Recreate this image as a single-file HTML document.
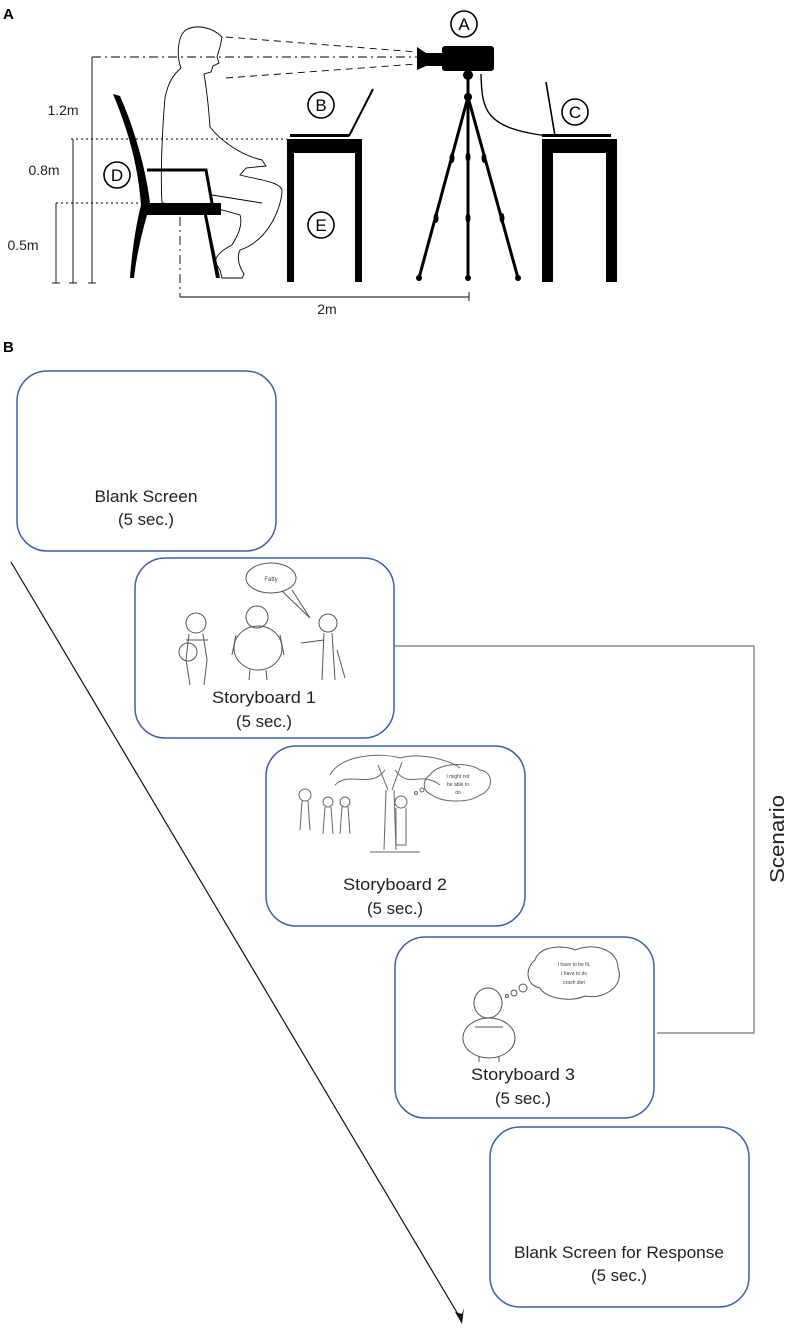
<!DOCTYPE html>
<html><head><meta charset="utf-8"><style>
html,body{margin:0;padding:0;background:#fff;}
svg{display:block;}
text{font-family:"Liberation Sans",sans-serif;}
.bt{font-family:"Liberation Sans Narrow","Liberation Sans",sans-serif;font-size:17px;fill:#222;}
</style></head><body>
<svg width="787" height="1329" viewBox="0 0 787 1329" xmlns="http://www.w3.org/2000/svg">
<!-- Part A -->
<text x="3" y="19" font-size="15" font-weight="bold">A</text>
<g fill="none" stroke="#000">
 <circle cx="464" cy="24" r="13" stroke-width="1.6"/>
 <circle cx="321" cy="105" r="13" stroke-width="1.6"/>
 <circle cx="575" cy="112" r="13" stroke-width="1.6"/>
 <circle cx="117" cy="175" r="13" stroke-width="1.6"/>
 <circle cx="321" cy="225" r="13" stroke-width="1.6"/>
</g>
<g font-size="17" text-anchor="middle">
 <text x="464" y="30">A</text><text x="321" y="111">B</text><text x="575" y="118">C</text>
 <text x="117" y="181">D</text><text x="321" y="231">E</text>
</g>
<rect x="442" y="46" width="52" height="25" rx="3" fill="#000"/>
<path d="M417 47 L426 53 L442 53 L442 66 L426 66 L417 70 Z" fill="#000"/>
<circle cx="468" cy="75" r="5" fill="#000"/>
<g stroke="#000" stroke-width="3" fill="none">
 <line x1="468" y1="75" x2="468" y2="278"/>
 <line x1="468" y1="97" x2="419" y2="278"/>
 <line x1="468" y1="97" x2="518" y2="278"/>
</g>
<g fill="#000">
 <circle cx="468" cy="97" r="4"/><circle cx="419" cy="278" r="3"/><circle cx="468" cy="278" r="3"/><circle cx="518" cy="278" r="3"/>
 <ellipse cx="468" cy="157" rx="2.5" ry="5"/><ellipse cx="468" cy="218" rx="2.5" ry="5"/>
 <ellipse cx="452" cy="158" rx="2.5" ry="5"/><ellipse cx="484" cy="158" rx="2.5" ry="5"/>
 <ellipse cx="436" cy="218" rx="2.5" ry="5"/><ellipse cx="502" cy="218" rx="2.5" ry="5"/>
</g>
<path d="M481 74 C482 110 484 128 548 136" stroke="#000" stroke-width="1.4" fill="none"/>
<g fill="#000">
 <rect x="287" y="139" width="75" height="14"/><rect x="287" y="139" width="7" height="143"/><rect x="355" y="139" width="7" height="143"/>
 <rect x="290" y="134" width="59" height="3"/>
 <rect x="542" y="139" width="75" height="14"/><rect x="542" y="139" width="11" height="143"/><rect x="606" y="139" width="11" height="143"/>
 <rect x="542" y="134" width="69" height="3"/>
</g>
<line x1="349" y1="136" x2="373" y2="89" stroke="#000" stroke-width="2"/>
<line x1="555" y1="136" x2="546" y2="82" stroke="#000" stroke-width="1.6"/>
<path d="M113 94 L120 96 C135 130 146 170 150 203 L147 215 C140 240 136 260 134 278 L130 278 C132 250 136 225 141 205 C138 165 128 130 113 94 Z" fill="#000"/>
<rect x="147" y="203" width="74" height="12" fill="#000"/>
<path d="M207 215 L220 278 L216 278 L204 215 Z" fill="#000"/>
<path d="M147 170 L206 170 L212 203" stroke="#000" stroke-width="3" fill="none"/>
<path d="M181 68 C176 55 178 35 186 30 C196 24 212 27 222 37 L220 47 L217 57 L219 63 L213 66 L211 72 L204 74 C206 85 208 100 210 127 C220 140 240 155 262 160 L266 166 L246 168 L240 175 C260 180 280 182 282 190 C282 205 270 240 240 250 C236 258 240 268 244 274 L242 278 L222 278 L220 270 L217 265 C212 258 222 250 232 245 C238 235 243 225 240 215 L222 210 L162 203 C160 170 163 120 165 98 C168 82 174 74 181 68 Z" fill="none" stroke="#000" stroke-width="0.9"/>
<path d="M212 195 L262 203" stroke="#000" stroke-width="0.9"/>
<g stroke="#000" stroke-width="0.9" fill="none">
 <line x1="226" y1="37" x2="417" y2="52" stroke-dasharray="7,5"/>
 <line x1="226" y1="78" x2="417" y2="64" stroke-dasharray="7,5"/>
 <line x1="92" y1="57" x2="418" y2="57" stroke-dasharray="9,4,2,4"/>
 <line x1="71" y1="139" x2="287" y2="139" stroke-dasharray="2,3"/>
 <line x1="56" y1="203" x2="147" y2="203" stroke-dasharray="2,3"/>
 <line x1="92" y1="57" x2="92" y2="283"/>
 <line x1="73" y1="139" x2="73" y2="283"/>
 <line x1="56" y1="203" x2="56" y2="283"/>
 <line x1="88" y1="283" x2="96" y2="283"/><line x1="69" y1="283" x2="77" y2="283"/><line x1="52" y1="283" x2="60" y2="283"/>
 <line x1="180" y1="217" x2="180" y2="297" stroke-dasharray="9,4,2,4"/>
 <line x1="180" y1="297" x2="469" y2="297"/>
 <line x1="469" y1="292" x2="469" y2="301"/>
</g>
<g font-size="14" text-anchor="middle" fill="#222">
 <text x="63" y="115">1.2m</text><text x="44" y="175">0.8m</text><text x="23" y="250">0.5m</text><text x="327" y="314">2m</text>
</g>
<!-- Part B -->
<text x="3" y="352" font-size="15" font-weight="bold">B</text>
<g fill="#fff" stroke="#3f5fa8" stroke-width="1.5">
 <rect x="17" y="371" width="259" height="180" rx="30"/>
 <rect x="135" y="558" width="259" height="180" rx="30"/>
 <rect x="266" y="746" width="259" height="180" rx="30"/>
 <rect x="395" y="937" width="259" height="181" rx="30"/>
 <rect x="490" y="1127" width="259" height="180" rx="30"/>
</g>
<g class="bt" text-anchor="middle">
 <text x="146" y="502" textLength="103" lengthAdjust="spacingAndGlyphs">Blank Screen</text>
 <text x="146" y="525" textLength="56" lengthAdjust="spacingAndGlyphs">(5 sec.)</text>
 <text x="264" y="703" textLength="104" lengthAdjust="spacingAndGlyphs">Storyboard 1</text>
 <text x="264" y="727" textLength="56" lengthAdjust="spacingAndGlyphs">(5 sec.)</text>
 <text x="395" y="890" textLength="104" lengthAdjust="spacingAndGlyphs">Storyboard 2</text>
 <text x="395" y="914" textLength="56" lengthAdjust="spacingAndGlyphs">(5 sec.)</text>
 <text x="523" y="1080" textLength="104" lengthAdjust="spacingAndGlyphs">Storyboard 3</text>
 <text x="523" y="1104" textLength="56" lengthAdjust="spacingAndGlyphs">(5 sec.)</text>
 <text x="619" y="1258" textLength="210" lengthAdjust="spacingAndGlyphs">Blank Screen for Response</text>
 <text x="619" y="1281" textLength="56" lengthAdjust="spacingAndGlyphs">(5 sec.)</text>
</g>
<path d="M394 646 L754 646 L754 1033 L657 1033" fill="none" stroke="#777" stroke-width="1.2"/>
<text x="0" y="0" font-size="20" fill="#222" text-anchor="middle" textLength="88" lengthAdjust="spacingAndGlyphs" transform="translate(784 839) rotate(-90)">Scenario</text>
<line x1="11" y1="562" x2="459" y2="1316" stroke="#111" stroke-width="1.2"/>
<path d="M462 1324 L455 1312 L462 1314 L464 1308 Z" fill="#111"/>
<!-- Storyboard 1 cartoon -->
<g fill="none" stroke="#555" stroke-width="1">
 <ellipse cx="271" cy="578" rx="25" ry="15"/>
 <path d="M282 591 L310 618 L292 590"/>
 <circle cx="196" cy="623" r="10"/><path d="M189 634 L186 660 L190 685 M203 634 L207 660 L204 685 M186 640 L208 640"/>
 <circle cx="188" cy="652" r="9"/>
 <circle cx="257" cy="617" r="11"/><ellipse cx="258" cy="648" rx="24" ry="22"/><path d="M250 670 L249 680 M266 670 L267 680 M236 635 L232 655 M280 635 L284 655"/>
 <circle cx="328" cy="623" r="9"/><path d="M324 633 L322 680 M332 633 L335 680 M324 640 L301 643 M337 650 L345 678"/>
</g>
<text x="271" y="581" font-size="6" text-anchor="middle" fill="#444">Fatty</text>
<!-- Storyboard 2 cartoon -->
<g fill="none" stroke="#666" stroke-width="1">
 <path d="M330 775 C340 755 380 752 400 758 C420 752 450 760 460 768 M335 785 C350 770 370 790 385 770 M395 770 C410 790 420 770 440 785"/>
 <path d="M386 790 L384 850 M394 790 L396 850 M388 790 L378 765 M392 790 L402 762 M370 852 L420 852"/>
 <path d="M430 775 C438 762 470 762 480 770 C494 772 494 790 480 795 C468 804 440 802 432 795 C420 790 424 778 430 775 Z"/>
 <circle cx="422" cy="790" r="2"/><circle cx="416" cy="793" r="1.5"/>
 <circle cx="401" cy="802" r="6"/><path d="M396 808 L396 845 L406 845 L406 808"/>
 <circle cx="305" cy="795" r="6"/><path d="M302 801 L300 830 M308 801 L310 830"/>
 <circle cx="328" cy="802" r="5"/><path d="M325 807 L323 834 M331 807 L333 834"/>
 <circle cx="345" cy="802" r="5"/><path d="M342 807 L340 834 M348 807 L350 834"/>
</g>
<text x="458" y="778" font-size="5" text-anchor="middle" fill="#444">I might not</text>
<text x="458" y="786" font-size="5" text-anchor="middle" fill="#444">be able to</text>
<text x="458" y="794" font-size="5" text-anchor="middle" fill="#444">do</text>
<!-- Storyboard 3 cartoon -->
<g fill="none" stroke="#555" stroke-width="1">
 <path d="M535 960 C540 945 565 945 575 950 C595 942 618 950 618 968 C625 985 605 1000 585 996 C570 1003 545 998 540 988 C525 985 525 968 535 960 Z"/>
 <circle cx="523" cy="988" r="4"/><circle cx="514" cy="993" r="3"/><circle cx="507" cy="996" r="1.5"/>
 <ellipse cx="488" cy="1003" rx="14" ry="15"/>
 <ellipse cx="489" cy="1038" rx="26" ry="20"/>
 <path d="M475 1027 L503 1027 M479 1056 L479 1062 M499 1056 L499 1062"/>
</g>
<text x="574" y="966" font-size="5" text-anchor="middle" fill="#444">I have to be fit,</text>
<text x="574" y="975" font-size="5" text-anchor="middle" fill="#444">I have to do</text>
<text x="574" y="984" font-size="5" text-anchor="middle" fill="#444">crash diet</text>
</svg>
</body></html>
